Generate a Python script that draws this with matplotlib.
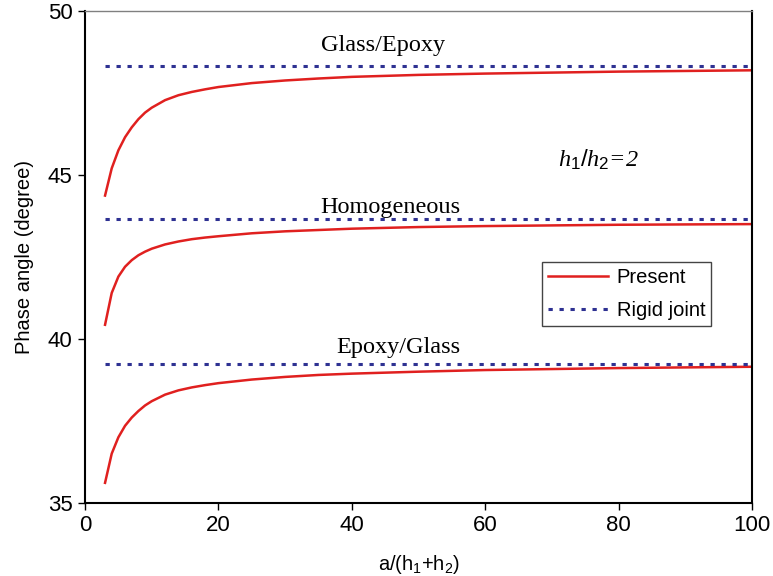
import matplotlib
matplotlib.use("Agg")
import matplotlib.pyplot as plt

# ---- data ----
ratio = [3, 4, 5, 6, 7, 8, 9, 10, 12, 14, 16, 18, 20, 25, 30, 35, 40, 50, 60, 70, 80, 90, 100]

glass_epoxy = [44.37, 45.2, 45.75, 46.15, 46.45, 46.7, 46.9, 47.05, 47.28, 47.43, 47.53, 47.61,
               47.68, 47.80, 47.88, 47.94, 47.99, 48.05, 48.09, 48.12, 48.15, 48.17, 48.19]
homogeneous = [40.43, 41.4, 41.9, 42.2, 42.4, 42.55, 42.66, 42.75, 42.88, 42.97, 43.04, 43.09,
               43.13, 43.22, 43.28, 43.32, 43.36, 43.41, 43.44, 43.46, 43.48, 43.49, 43.50]
epoxy_glass = [35.61, 36.5, 37.0, 37.35, 37.6, 37.8, 37.97, 38.1, 38.3, 38.43, 38.52, 38.59,
               38.65, 38.76, 38.84, 38.90, 38.94, 39.00, 39.05, 39.08, 39.11, 39.13, 39.15]

rigid = [48.32, 43.65, 39.24]
case_names = ["Glass/Epoxy", "Homogeneous", "Epoxy/Glass"]
label_x = [44.7, 45.7, 47.0]
label_y = [48.95, 44.0, 39.75]

red = "#e0201f"
navy = "#2e3192"

plt.rcParams["font.family"] = ["Liberation Sans", "DejaVu Sans"]
plt.rcParams["mathtext.fontset"] = "custom"
plt.rcParams["mathtext.rm"] = "Liberation Sans"
plt.rcParams["mathtext.it"] = "Liberation Serif:italic"

fig = plt.figure(figsize=(7.73, 5.76), dpi=100)
ax = fig.add_axes([0.110, 0.127, 0.863, 0.854])

for i, ys in enumerate([glass_epoxy, homogeneous, epoxy_glass]):
    ax.plot(ratio, ys, color=red, lw=1.8, label="Present" if i == 0 else None)
    ax.plot([ratio[0], ratio[-1]], [rigid[i], rigid[i]], color=navy, lw=2.2,
            linestyle=(0, (1.4, 2.2)), label="Rigid joint" if i == 0 else None)
    ax.text(label_x[i], label_y[i], case_names[i], ha="center", va="center",
            fontsize=17.5, family="Liberation Serif")

ax.text(70.9, 45.45, r"$\mathit{h_1/h_2}$=2", ha="left", va="center", fontsize=17.5,
        family="Liberation Serif", style="italic")

ax.set_xlim(0, 100)
ax.set_ylim(35, 50)
ax.set_xticks([0, 20, 40, 60, 80, 100])
ax.set_yticks([35, 40, 45, 50])
ax.tick_params(labelsize=16, length=5, width=1, direction="out", pad=4)
ax.set_xlabel(r"a/(h$_\mathrm{1}$+h$_\mathrm{2}$)", fontsize=14.5, labelpad=12)
ax.set_ylabel("Phase angle (degree)", fontsize=14.5, labelpad=10)

for s in ["left", "bottom", "right"]:
    ax.spines[s].set_color("black")
    ax.spines[s].set_linewidth(1.5)
ax.spines["top"].set_color("#808080")
ax.spines["top"].set_linewidth(1.0)

leg = ax.legend(loc="upper left", bbox_to_anchor=(0.685, 0.49), fontsize=14.5,
                fancybox=False, edgecolor="#444444", framealpha=1,
                handlelength=3.0, handletextpad=0.4, borderpad=0.3, labelspacing=0.7,
                borderaxespad=0)
leg.get_frame().set_linewidth(1.0)

fig.savefig("out.png", dpi=100)
